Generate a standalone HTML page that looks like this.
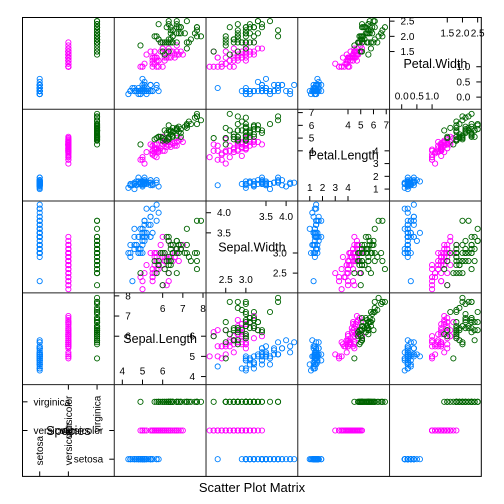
<!DOCTYPE html>
<html><head><meta charset="utf-8"><style>
html,body{margin:0;padding:0;background:#fff}
svg{display:block;font-family:"Liberation Sans",sans-serif}
</style></head><body>
<svg id="chart" width="504" height="504" viewBox="0 0 504 504" xmlns="http://www.w3.org/2000/svg">
<defs id="defs"></defs>
<text x="252" y="492" text-anchor="middle" font-size="13">Scatter Plot Matrix</text>
</svg>
<script>
const varNames = ["Species","Sepal.Length","Sepal.Width","Petal.Length","Petal.Width"];
const speciesLevels = ["setosa","versicolor","virginica"];
const groupColors = ["#0080ff","#ff00ff","#006400"];
const axisLimits = [[0.4,3.6],[3.6,8.15],[2.01,4.29],[0.06,7.26],[-0.40,2.62]];
const sepalLength = [5.1,4.9,4.7,4.6,5.0,5.4,4.6,5.0,4.4,4.9,5.4,4.8,4.8,4.3,5.8,5.7,5.4,5.1,5.7,5.1,5.4,5.1,4.6,5.1,4.8,5.0,5.0,5.2,5.2,4.7,4.8,5.4,5.2,5.5,4.9,5.0,5.5,4.9,4.4,5.1,5.0,4.5,4.4,5.0,5.1,4.8,5.1,4.6,5.3,5.0,
7.0,6.4,6.9,5.5,6.5,5.7,6.3,4.9,6.6,5.2,5.0,5.9,6.0,6.1,5.6,6.7,5.6,5.8,6.2,5.6,5.9,6.1,6.3,6.1,6.4,6.6,6.8,6.7,6.0,5.7,5.5,5.5,5.8,6.0,5.4,6.0,6.7,6.3,5.6,5.5,5.5,6.1,5.8,5.0,5.6,5.7,5.7,6.2,5.1,5.7,
6.3,5.8,7.1,6.3,6.5,7.6,4.9,7.3,6.7,7.2,6.5,6.4,6.8,5.7,5.8,6.4,6.5,7.7,7.7,6.0,6.9,5.6,7.7,6.3,6.7,7.2,6.2,6.1,6.4,7.2,7.4,7.9,6.4,6.3,6.1,7.7,6.3,6.4,6.0,6.9,6.7,6.9,5.8,6.8,6.7,6.7,6.3,6.5,6.2,5.9];
const sepalWidth = [3.5,3.0,3.2,3.1,3.6,3.9,3.4,3.4,2.9,3.1,3.7,3.4,3.0,3.0,4.0,4.2,3.9,3.5,3.8,3.8,3.4,3.7,3.6,3.3,3.4,3.0,3.4,3.5,3.4,3.2,3.1,3.4,4.1,4.1,3.1,3.2,3.5,3.6,3.0,3.4,3.5,2.3,3.2,3.5,3.8,3.0,3.8,3.2,3.7,3.3,
3.2,3.2,3.1,2.3,2.8,2.8,3.3,2.4,2.9,2.7,2.1,3.0,2.2,2.9,2.9,3.1,3.0,2.7,2.2,2.5,3.2,2.8,2.5,2.8,2.9,3.0,2.8,3.0,2.9,2.6,2.4,2.4,2.7,2.7,3.0,3.4,3.1,2.3,3.0,2.5,2.6,3.0,2.6,2.3,2.7,3.0,2.9,2.9,2.5,2.8,
3.3,2.7,3.0,2.9,3.0,3.0,2.5,2.9,2.5,3.6,3.2,2.7,3.0,2.5,2.8,3.2,3.0,3.8,2.6,2.2,3.2,2.8,2.8,2.7,3.3,3.2,2.8,3.0,2.8,3.0,2.8,3.8,2.8,2.8,2.6,3.0,3.4,3.1,3.0,3.1,3.1,3.1,2.7,3.2,3.3,3.0,2.5,3.0,3.4,3.0];
const petalLength = [1.4,1.4,1.3,1.5,1.4,1.7,1.4,1.5,1.4,1.5,1.5,1.6,1.4,1.1,1.2,1.5,1.3,1.4,1.7,1.5,1.7,1.5,1.0,1.7,1.9,1.6,1.6,1.5,1.4,1.6,1.6,1.5,1.5,1.4,1.5,1.2,1.3,1.4,1.3,1.5,1.3,1.3,1.3,1.6,1.9,1.4,1.6,1.4,1.5,1.4,
4.7,4.5,4.9,4.0,4.6,4.5,4.7,3.3,4.6,3.9,3.5,4.2,4.0,4.7,3.6,4.4,4.5,4.1,4.5,3.9,4.8,4.0,4.9,4.7,4.3,4.4,4.8,5.0,4.5,3.5,3.8,3.7,3.9,5.1,4.5,4.5,4.7,4.4,4.1,4.0,4.4,4.6,4.0,3.3,4.2,4.2,4.2,4.3,3.0,4.1,
6.0,5.1,5.9,5.6,5.8,6.6,4.5,6.3,5.8,6.1,5.1,5.3,5.5,5.0,5.1,5.3,5.5,6.7,6.9,5.0,5.7,4.9,6.7,4.9,5.7,6.0,4.8,4.9,5.6,5.8,6.1,6.4,5.6,5.1,5.6,6.1,5.6,5.5,4.8,5.4,5.6,5.1,5.1,5.9,5.7,5.2,5.0,5.2,5.4,5.1];
const petalWidth = [0.2,0.2,0.2,0.2,0.2,0.4,0.3,0.2,0.2,0.1,0.2,0.2,0.1,0.1,0.2,0.4,0.4,0.3,0.3,0.3,0.2,0.4,0.2,0.5,0.2,0.2,0.4,0.2,0.2,0.2,0.2,0.4,0.1,0.2,0.2,0.2,0.2,0.1,0.2,0.2,0.3,0.3,0.2,0.6,0.4,0.3,0.2,0.2,0.2,0.2,
1.4,1.5,1.5,1.3,1.5,1.3,1.6,1.0,1.3,1.4,1.0,1.5,1.0,1.4,1.3,1.4,1.5,1.0,1.5,1.1,1.8,1.3,1.5,1.2,1.3,1.4,1.4,1.7,1.5,1.0,1.1,1.0,1.2,1.6,1.5,1.6,1.5,1.3,1.3,1.3,1.2,1.4,1.2,1.0,1.3,1.2,1.3,1.3,1.1,1.3,
2.5,1.9,2.1,1.8,2.2,2.1,1.7,1.8,1.8,2.5,2.0,1.9,2.1,2.0,2.4,2.3,1.8,2.2,2.3,1.5,2.3,2.0,2.0,1.8,2.1,1.8,1.8,1.8,2.1,1.6,1.9,2.0,2.2,1.5,1.4,2.3,2.4,1.8,1.8,2.1,2.4,2.3,1.9,2.3,2.5,2.3,1.9,2.0,2.3,1.8];
const lowerTicks = [[1,2],[4,5,6],[2.5,3.0],[1,2,3,4],[0.0,0.5,1.0]];
const upperTicks = [[2,3],[6,7,8],[3.5,4.0],[4,5,6,7],[1.5,2.0,2.5]];
const lowerLabels = [["setosa","versicolor"],["4","5","6"],["2.5","3.0"],["1","2","3","4"],["0.0","0.5","1.0"]];
const upperLabels = [["versicolor","virginica"],["6","7","8"],["3.5","4.0"],["4","5","6","7"],["1.5","2.0","2.5"]];

const NS="http://www.w3.org/2000/svg";
const svg=document.getElementById('chart');
const defs=document.getElementById('defs');
const L=22.5,T=17.5,R=481.3,B=476.4,N=5;
const W=(R-L)/N,H=(B-T)/N;
const species=[];for(let i=0;i<150;i++)species.push(Math.floor(i/50)+1);
const cols=[species,sepalLength,sepalWidth,petalLength,petalWidth];
function px(k,c,v){const [a,b]=axisLimits[k];return L+c*W+(v-a)/(b-a)*W;}
function py(k,r,v){const [a,b]=axisLimits[k];return B-r*H-(v-a)/(b-a)*H;}
function mk(tag,attrs,parent){const e=document.createElementNS(NS,tag);for(const a in attrs)e.setAttribute(a,attrs[a]);(parent||svg).appendChild(e);return e;}
function slug(s){return s.toLowerCase().replace('.','-');}

for(let c=0;c<N;c++){
  for(let r=0;r<N;r++){
    const g=mk('g',{});
    const x0=L+c*W,yb=B-r*H,y0=yb-H;
    if(c===r){
      
      
      const k=c, fs=10;
      const lab=mk('text',{x:x0+W/2,y:y0+H/2+4.5,'text-anchor':'middle','font-size':12.5},g);
      lab.textContent=varNames[k];
      
      
      lowerTicks[k].forEach((v,i)=>{
        const X=px(k,c,v),Y=py(k,r,v);
        mk('line',{x1:X,x2:X,y1:yb,y2:yb-5,stroke:'#000','stroke-width':1},g);
        mk('line',{x1:x0+W,x2:x0+W-5,y1:Y,y2:Y,stroke:'#000','stroke-width':1},g);
        let t;
        if(k===0){
          t=mk('text',{x:X+3.5,y:yb-11,'font-size':fs,transform:`rotate(-90 ${X+3.5} ${yb-11})`},g);
        } else {
          t=mk('text',{x:X,y:yb-10,'text-anchor':'middle','font-size':fs},g);
        }
        t.textContent=lowerLabels[k][i];
        
        
        const t2=mk('text',{x:x0+W-11,y:Y+3.5,'text-anchor':'end','font-size':fs},g);
        t2.textContent=lowerLabels[k][i];
        
        
      });
      upperTicks[k].forEach((v,i)=>{
        const X=px(k,c,v),Y=py(k,r,v);
        mk('line',{x1:X,x2:X,y1:y0,y2:y0+5,stroke:'#000','stroke-width':1},g);
        mk('line',{x1:x0,x2:x0+5,y1:Y,y2:Y,stroke:'#000','stroke-width':1},g);
        let t;
        if(k===0){
          t=mk('text',{x:X+3.5,y:y0+11,'font-size':fs,'text-anchor':'end',transform:`rotate(-90 ${X+3.5} ${y0+11})`},g);
        } else {
          t=mk('text',{x:X,y:y0+19,'text-anchor':'middle','font-size':fs},g);
        }
        t.textContent=upperLabels[k][i];
        
        
        const t2=mk('text',{x:x0+11,y:Y+3.5,'font-size':fs},g);
        t2.textContent=upperLabels[k][i];
        
        
      });
    } else {
      
      
      const cp=mk('clipPath',{id:'clip'+c+'_'+r},defs);
      mk('rect',{x:x0,y:y0,width:W,height:H},cp);
      g.setAttribute('clip-path','url(#clip'+c+'_'+r+')');
      const xs=cols[c],ys=cols[r];
      for(let i=0;i<150;i++){
        const p=mk('circle',{cx:px(c,c,xs[i]),cy:py(r,r,ys[i]),r:2.6,fill:'none',stroke:groupColors[species[i]-1],'stroke-width':0.9},g);
        
        
      }
    }
  }
}
for(let i=1;i<N;i++){
  const l1=mk('line',{x1:L+i*W,x2:L+i*W,y1:T,y2:B,stroke:'#222','stroke-width':1});
  
  
  const l2=mk('line',{x1:L,x2:R,y1:T+i*H,y2:T+i*H,stroke:'#222','stroke-width':1});
  
  
}
const border=mk('rect',{x:L,y:T,width:R-L,height:B-T,fill:'none',stroke:'#000','stroke-width':1});


</script>
</body></html>
